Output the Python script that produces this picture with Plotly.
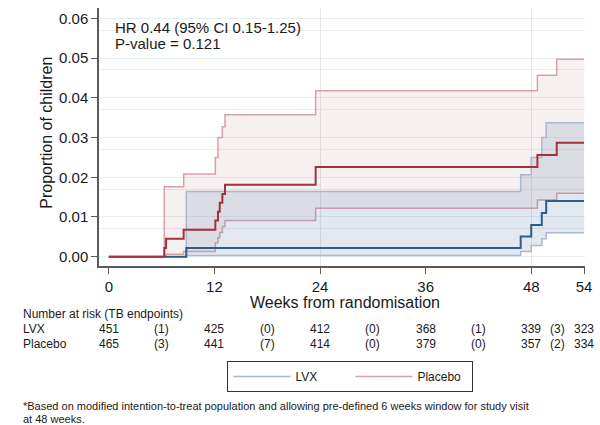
import plotly.graph_objects as go

# ---------------- data ----------------
week_ticks = [0, 12, 24, 36, 48, 54]
y_ticks = [0.00, 0.01, 0.02, 0.03, 0.04, 0.05, 0.06]
ref_line_weeks = [24, 48, 54]

placebo_t = [0, 6.3, 6.5, 8.5, 12.1, 12.4, 12.6, 12.9, 13.2, 23.5, 48.7, 50.9, 54]
placebo_est = [0, 0.0022, 0.0045, 0.0068, 0.0091, 0.0113, 0.0136, 0.0158, 0.0181, 0.0226, 0.0256, 0.0287, 0.0287]
placebo_lo = [0, 0.0001, 0.0006, 0.0013, 0.0035, 0.0048, 0.0061, 0.0076, 0.0091, 0.0122, 0.0143, 0.0160, 0.0160]
placebo_hi = [0, 0.0176, 0.0176, 0.0208, 0.0250, 0.0300, 0.0300, 0.0327, 0.0357, 0.0418, 0.0457, 0.0497, 0.0497]

lvx_t = [0, 8.8, 46.8, 48.0, 49.2, 49.7, 54]
lvx_est = [0, 0.0022, 0.0051, 0.0080, 0.0110, 0.0140, 0.0140]
lvx_lo = [0, 0.0003, 0.0013, 0.0028, 0.0045, 0.0060, 0.0060]
lvx_hi = [0, 0.0164, 0.0206, 0.0250, 0.0300, 0.0337, 0.0337]

risk_weeks = [0, 12, 24, 36, 48, 54]
event_weeks = [6, 18, 30, 42, 51]
lvx_risk = [451, 425, 412, 368, 339, 323]
lvx_events = [1, 0, 0, 1, 3]
placebo_risk = [465, 441, 414, 379, 357, 334]
placebo_events = [3, 7, 0, 0, 2]

hr_text = "HR 0.44 (95% CI 0.15-1.25)"
p_text = "P-value = 0.121"
footnote = ["*Based on modified intention-to-treat population and allowing pre-defined 6 weeks window for study visit",
            "at 48 weeks."]

# ---------------- styles ----------------
FONT = "Liberation Sans, Arial, Helvetica, sans-serif"
TXT = "#1a1a1a"
PL_LINE = "#a3323f"
PL_CI = "#d6a1a8"
PL_FILL = "rgba(196,140,150,0.13)"
LV_LINE = "#2e5d87"
LV_CI = "#a9b9cb"
LV_FILL = "rgba(110,140,178,0.20)"
AXIS = "#5a5a5a"

W, H = 600, 425
ML, MR, MT, MB = 99, 8, 8, 159
PW, PH = W - ML - MR, H - MT - MB
x_range = [-1.12, 54.11]
y_range = [-0.00234, 0.0626]


def py(pix):
    """pixel row -> paper y"""
    return (H - MB - pix) / PH


def px(pix):
    return (pix - ML) / PW


fig = go.Figure()

# invisible trace to anchor the overlay grid axes
fig.add_trace(go.Scatter(x=[None], y=[None], xaxis="x2", yaxis="y2",
                         showlegend=False, hoverinfo="skip"))

# confidence bands
for t, lo, hi, ci, fill in [(placebo_t, placebo_lo, placebo_hi, PL_CI, PL_FILL),
                            (lvx_t, lvx_lo, lvx_hi, LV_CI, LV_FILL)]:
    fig.add_trace(go.Scatter(x=t, y=lo, mode="lines", line=dict(color=ci, width=1.5, shape="hv"),
                             showlegend=False, hoverinfo="skip"))
    fig.add_trace(go.Scatter(x=t, y=hi, mode="lines", line=dict(color=ci, width=1.5, shape="hv"),
                             fill="tonexty", fillcolor=fill, showlegend=False, hoverinfo="skip"))

# estimates
fig.add_trace(go.Scatter(x=lvx_t, y=lvx_est, mode="lines",
                         line=dict(color=LV_LINE, width=2, shape="hv"), showlegend=False))
fig.add_trace(go.Scatter(x=placebo_t, y=placebo_est, mode="lines",
                         line=dict(color=PL_LINE, width=2, shape="hv"), showlegend=False))

# legend entries
fig.add_trace(go.Scatter(x=[None], y=[None], mode="lines", name="LVX",
                         line=dict(color=LV_CI, width=1.5)))
fig.add_trace(go.Scatter(x=[None], y=[None], mode="lines", name="Placebo",
                         line=dict(color=PL_CI, width=1.5)))

ann = []
ann.append(dict(text=hr_text, x=px(113), y=py(27), xref="paper", yref="paper",
                xanchor="left", yanchor="middle", showarrow=False,
                font=dict(size=15, color=TXT, family=FONT)))
ann.append(dict(text=p_text, x=px(113), y=py(43), xref="paper", yref="paper",
                xanchor="left", yanchor="middle", showarrow=False,
                font=dict(size=15, color=TXT, family=FONT)))
ann.append(dict(text="Proportion of children", x=px(45), y=py(133), xref="paper", yref="paper",
                textangle=-90, xanchor="center", yanchor="middle", showarrow=False,
                font=dict(size=16, color=TXT, family=FONT)))
ann.append(dict(text="Weeks from randomisation", x=px(349), y=py(302), xref="paper", yref="paper",
                xanchor="center", yanchor="middle", showarrow=False,
                font=dict(size=16, color=TXT, family=FONT)))

# number at risk table
tf = dict(size=12, color=TXT, family=FONT)
ann.append(dict(text="Number at risk (TB endpoints)", x=px(20), y=py(314), xref="paper", yref="paper",
                xanchor="left", yanchor="middle", showarrow=False, font=tf))
for label, risk, ev, rowy in [("LVX", lvx_risk, lvx_events, 329),
                              ("Placebo", placebo_risk, placebo_events, 344)]:
    ann.append(dict(text=label, x=px(20), y=py(rowy), xref="paper", yref="paper",
                    xanchor="left", yanchor="middle", showarrow=False, font=tf))
    for wk, n in zip(risk_weeks, risk):
        ann.append(dict(text=str(n), x=wk, y=py(rowy), xref="x", yref="paper",
                        xanchor="center", yanchor="middle", showarrow=False, font=tf))
    for wk, e in zip(event_weeks, ev):
        ann.append(dict(text=f"({e})", x=wk, y=py(rowy), xref="x", yref="paper",
                        xanchor="center", yanchor="middle", showarrow=False, font=tf))

for i, line in enumerate(footnote):
    ann.append(dict(text=line, x=px(20), y=py(406 + 13 * i), xref="paper", yref="paper",
                    xanchor="left", yanchor="middle", showarrow=False,
                    font=dict(size=11, color=TXT, family=FONT)))

fig.update_layout(
    width=W, height=H,
    margin=dict(l=ML, r=MR, t=MT, b=MB, pad=0),
    paper_bgcolor="white", plot_bgcolor="white",
    font=dict(family=FONT, color=TXT),
    xaxis=dict(range=x_range, tickvals=week_ticks, ticks="outside", ticklen=6,
               tickcolor=AXIS, tickwidth=1.2, showline=True, linecolor=AXIS, linewidth=1.5,
               showgrid=False, zeroline=False, tickfont=dict(size=15, color=TXT, family=FONT)),
    yaxis=dict(range=y_range, tickvals=y_ticks, tickformat=".2f", ticks="outside", ticklen=6,
               tickcolor=AXIS, tickwidth=1.2, showline=True, linecolor=AXIS, linewidth=1.5,
               showgrid=True, gridcolor="#e4eef2", gridwidth=1.2, zeroline=False,
               tickfont=dict(size=15, color=TXT, family=FONT)),
    xaxis2=dict(range=x_range, overlaying="x", tickvals=ref_line_weeks, showticklabels=False,
                ticks="", showline=False, showgrid=True, gridcolor="#e6e6e6", gridwidth=1.2,
                zeroline=False),
    yaxis2=dict(range=[y_range[0] + 0.003, y_range[1] + 0.003], overlaying="y",
                tickvals=y_ticks, showticklabels=False, ticks="", showline=False,
                showgrid=True, gridcolor="#ececec", gridwidth=1.2, zeroline=False),
    legend=dict(orientation="h", traceorder="normal", x=px(354), y=py(361),
                xanchor="center", yanchor="top",
                bordercolor="#333333", borderwidth=1, bgcolor="white",
                itemwidth=57, entrywidth=50, font=dict(size=12, color=TXT, family=FONT)),
    annotations=ann,
)

fig.write_html("out.html", config={"displayModeBar": False},
               post_script="document.body.style.margin='0px';document.body.style.padding='0px';")
